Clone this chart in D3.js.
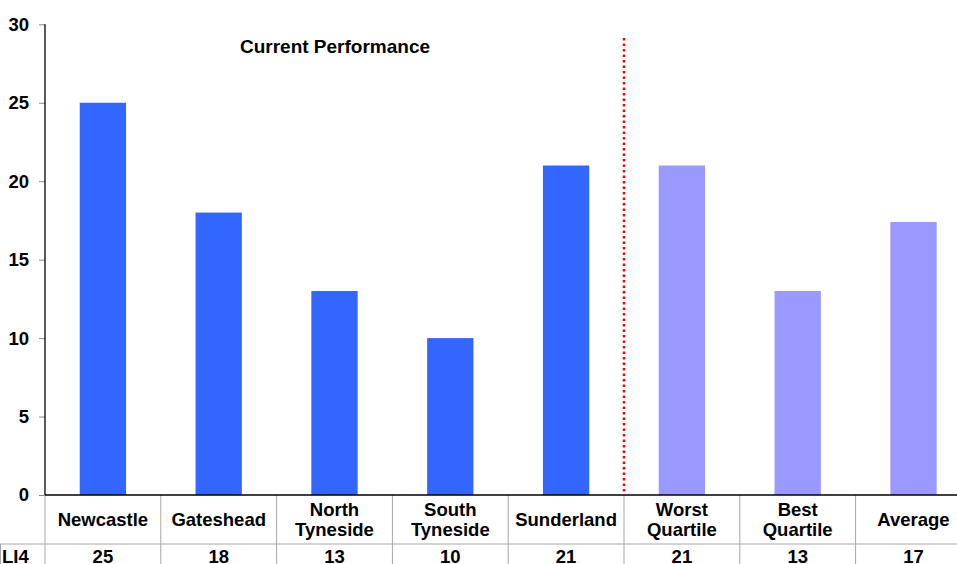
<!DOCTYPE html>
<html>
<head>
<meta charset="utf-8">
<script src="https://cdn.jsdelivr.net/npm/d3@7/dist/d3.min.js"></script>
<style>
  html, body { margin: 0; padding: 0; background: #fff; overflow: hidden; }
  svg { display: block; font-family: "Liberation Sans", Arial, sans-serif; font-weight: bold; }
</style>
</head>
<body>
<svg id="chart" width="957" height="564"></svg>
<script>
// Council values for indicator LI4, followed by the comparison benchmarks
const categories = ["Newcastle", "Gateshead", "North\nTyneside", "South\nTyneside", "Sunderland", "Worst\nQuartile", "Best\nQuartile", "Average"];
const values = [25, 18, 13, 10, 21, 21, 13, 17.4];
const groups = ["council", "council", "council", "council", "council", "benchmark", "benchmark", "benchmark"];
const yTicks = [0, 5, 10, 15, 20, 25, 30];
const seriesName = "LI4";
const title = "Current Performance";

const svg = d3.select("#chart");
const plotLeft = 45, plotTop = 24.3, plotBottom = 495;
const step = 115.8;
const plotRight = plotLeft + step * categories.length;

const x = d3.scaleBand().domain(d3.range(categories.length)).range([plotLeft, plotRight]).paddingInner(0.6).paddingOuter(0.3);
const y = d3.scaleLinear().domain([0, 30]).range([plotBottom, plotTop]);
const colour = d3.scaleOrdinal().domain(["council", "benchmark"]).range(["#3366ff", "#9999ff"]);

// bars
svg.append("g").selectAll("rect").data(values).join("rect")
  .attr("x", (d, i) => x(i))
  .attr("y", d => y(d))
  .attr("width", x.bandwidth())
  .attr("height", d => y(0) - y(d))
  .attr("fill", (d, i) => colour(groups[i]));

// y axis
const yAxis = d3.axisLeft(y).tickValues(yTicks).tickSize(6).tickPadding(10).tickFormat(d3.format("d"));
const ga = svg.append("g").attr("transform", `translate(${plotLeft},0)`).call(yAxis);
ga.select(".domain").remove();
ga.selectAll(".tick line").attr("stroke", "#888");
ga.selectAll(".tick text").attr("font-size", 18.5).attr("font-weight", "bold").attr("fill", "#000")
  .attr("font-family", "'Liberation Sans', Arial, sans-serif");
svg.append("line").attr("x1", plotLeft).attr("x2", plotLeft).attr("y1", y(30)).attr("y2", plotBottom).attr("stroke", "#000").attr("stroke-width", 1.3);

// data table grid
const rowTop = plotBottom, rowMid = 544, rowBottom = 600;
const grid = svg.append("g").attr("stroke", "#a6a6a6").attr("stroke-width", 1);
const edges = d3.range(categories.length + 1).map(i => plotLeft + i * step);
edges.forEach(e => grid.append("line").attr("x1", e).attr("x2", e).attr("y1", rowTop).attr("y2", rowBottom));
grid.append("line").attr("x1", 0).attr("x2", 957).attr("y1", rowMid).attr("y2", rowMid);
grid.append("line").attr("x1", 0.5).attr("x2", 0.5).attr("y1", rowMid).attr("y2", rowBottom);

// baseline
svg.append("line").attr("x1", plotLeft).attr("x2", 957).attr("y1", plotBottom).attr("y2", plotBottom).attr("stroke", "#000").attr("stroke-width", 1.3);

// category labels
const catG = svg.append("g").attr("font-size", 18.5).attr("text-anchor", "middle");
categories.forEach((c, i) => {
  const lines = c.split("\n");
  const cx = x(i) + x.bandwidth() / 2;
  const t = catG.append("text").attr("x", cx).attr("y", 519.5 - (lines.length - 1) * 10);
  lines.forEach((l, j) => t.append("tspan").attr("x", cx).attr("dy", j === 0 ? "0.35em" : "1.08em").text(l));
});

// value row
const fmt = d3.format(".0f");
const valG = svg.append("g").attr("font-size", 18.5).attr("text-anchor", "middle");
values.forEach((v, i) => {
  valG.append("text").attr("x", x(i) + x.bandwidth() / 2).attr("y", 557).attr("dy", "0.35em").text(fmt(v));
});
svg.append("text").attr("x", 2).attr("y", 557).attr("dy", "0.35em").attr("font-size", 18.5).text(seriesName);

// divider between councils and benchmarks
svg.append("line").attr("x1", edges[5]).attr("x2", edges[5]).attr("y1", 38).attr("y2", plotBottom)
  .attr("stroke", "#ff0000").attr("stroke-width", 2.5).attr("stroke-dasharray", "2.5,3");

// title
svg.append("text").attr("x", 335).attr("y", 46).attr("dy", "0.35em").attr("text-anchor", "middle")
  .attr("font-size", 19).text(title);
</script>
</body>
</html>
